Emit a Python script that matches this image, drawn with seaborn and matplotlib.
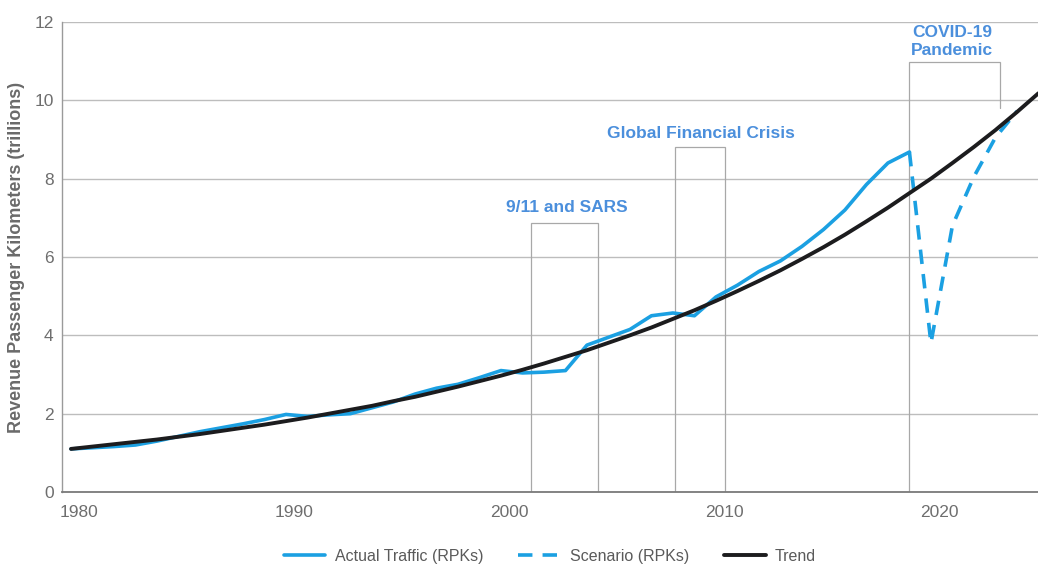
import numpy as np
import pandas as pd
import matplotlib
matplotlib.use("Agg")
import matplotlib.pyplot as plt
import matplotlib.transforms as mtransforms
import seaborn as sns

# ---- data (trillions of revenue passenger kilometers) ----
actual_years = list(range(1980, 2020))
actual_rpk = [1.10, 1.13, 1.16, 1.20, 1.30, 1.42, 1.54, 1.64, 1.74, 1.85,
              1.98, 1.93, 1.97, 2.00, 2.15, 2.30, 2.50, 2.65, 2.75, 2.92,
              3.10, 3.04, 3.06, 3.10, 3.75, 3.95, 4.15, 4.50, 4.57, 4.50,
              4.98, 5.28, 5.63, 5.90, 6.27, 6.70, 7.20, 7.85, 8.40, 8.68]

scenario_years = [2019, 2020, 2021, 2022, 2023, 2024]
scenario_rpk = [8.68, 3.80, 6.80, 8.05, 9.05, 9.72]

trend_years = list(range(1980, 2026))
trend_rpk = [1.10, 1.16, 1.22, 1.28, 1.34, 1.41, 1.48, 1.56, 1.64, 1.72,
             1.81, 1.90, 2.00, 2.10, 2.20, 2.32, 2.43, 2.56, 2.69, 2.83,
             2.97, 3.12, 3.28, 3.45, 3.62, 3.81, 4.00, 4.20, 4.42, 4.64,
             4.88, 5.13, 5.39, 5.66, 5.95, 6.25, 6.57, 6.91, 7.26, 7.63,
             8.00, 8.40, 8.81, 9.24, 9.70, 10.18]

# shock events: (label, start, end, box top, right-edge bottom)
event_labels = ["9/11 and SARS", "Global Financial Crisis", "COVID-19\nPandemic"]
event_spans = [(2001.4, 2004.5), (2008.1, 2010.4), (2019.0, 2023.2)]
event_box_tops = [6.86, 8.80, 10.97]
event_right_bottoms = [0.0, 0.0, 9.80]
event_label_pos = [(2003.05, 7.27), (2009.3, 9.15), (2021.0, 11.50)]

x_ticks = [1980, 1990, 2000, 2010, 2020]
y_ticks = [0, 2, 4, 6, 8, 10, 12]

# ---- style ----
sns.set_theme(style="white")
plt.rcParams["font.family"] = ["Liberation Sans", "DejaVu Sans"]

LINE_BLUE = "#1ba0e2"
TEXT_BLUE = "#4b8fdc"
TREND_BLACK = "#1c1c1e"
BOX_GREY = "#a8a8a8"
TICK_GREY = "#6e6e6e"

fig = plt.figure(figsize=(10.38, 5.65), dpi=100)
ax = fig.add_axes([0.0597, 0.1292, 0.9403, 0.8319])

actual_df = pd.DataFrame({"year": actual_years, "rpk": actual_rpk})
scenario_df = pd.DataFrame({"year": scenario_years, "rpk": scenario_rpk})
trend_df = pd.DataFrame({"year": trend_years, "rpk": trend_rpk})

# event boxes
for (x0, x1), top, rb in zip(event_spans, event_box_tops, event_right_bottoms):
    ax.plot([x0, x0, x1, x1], [0, top, top, rb], color=BOX_GREY,
            linewidth=0.9, zorder=1, solid_joinstyle="miter")

sns.lineplot(data=actual_df, x="year", y="rpk", ax=ax, color=LINE_BLUE,
             linewidth=2.6, label="Actual Traffic (RPKs)", zorder=3)
sns.lineplot(data=scenario_df, x="year", y="rpk", ax=ax, color=LINE_BLUE,
             linewidth=2.6, linestyle=(0, (4.0, 2.8)),
             label="Scenario (RPKs)", zorder=3)
sns.lineplot(data=trend_df, x="year", y="rpk", ax=ax, color=TREND_BLACK,
             linewidth=2.8, label="Trend", zorder=4)

for text, (tx, ty) in zip(event_labels, event_label_pos):
    ax.text(tx, ty, text, ha="center", va="center", color=TEXT_BLUE,
            fontsize=12.5, fontweight="bold", linespacing=1.18, zorder=5)

# axes, grid and ticks
ax.set_xlim(1979.58, 2024.98)
ax.set_ylim(0, 12)
ax.set_xticks(x_ticks)
ax.set_yticks(y_ticks)
ax.set_xticklabels([str(t) for t in x_ticks])
ax.yaxis.grid(True, color="#bdbdbd", linewidth=1.0)
ax.xaxis.grid(False)
ax.set_axisbelow(True)
for side in ["top", "right"]:
    ax.spines[side].set_visible(False)
ax.spines["left"].set_color("#9a9a9a")
ax.spines["bottom"].set_color("#7a7a7a")
ax.spines["left"].set_linewidth(1.0)
ax.spines["bottom"].set_linewidth(1.3)
ax.tick_params(axis="both", length=0, labelsize=12.5, labelcolor=TICK_GREY)
ax.tick_params(axis="x", pad=9)
ax.tick_params(axis="y", pad=6)
shift = mtransforms.ScaledTranslation(8 / 100, 0, fig.dpi_scale_trans)
for lbl in ax.get_xticklabels():
    lbl.set_transform(lbl.get_transform() + shift)

ax.set_xlabel("")
ax.set_ylabel("Revenue Passenger Kilometers (trillions)", fontsize=13,
              fontweight="bold", color="#6a6a6a", labelpad=7)

leg = ax.legend(loc="upper center", bbox_to_anchor=(0.5, -0.09), ncol=3,
                frameon=False, fontsize=11.5, handlelength=2.6,
                columnspacing=2.2, handletextpad=0.6)
for t in leg.get_texts():
    t.set_color("#5a5a5a")

fig.savefig("out.png", dpi=100, facecolor="white")
